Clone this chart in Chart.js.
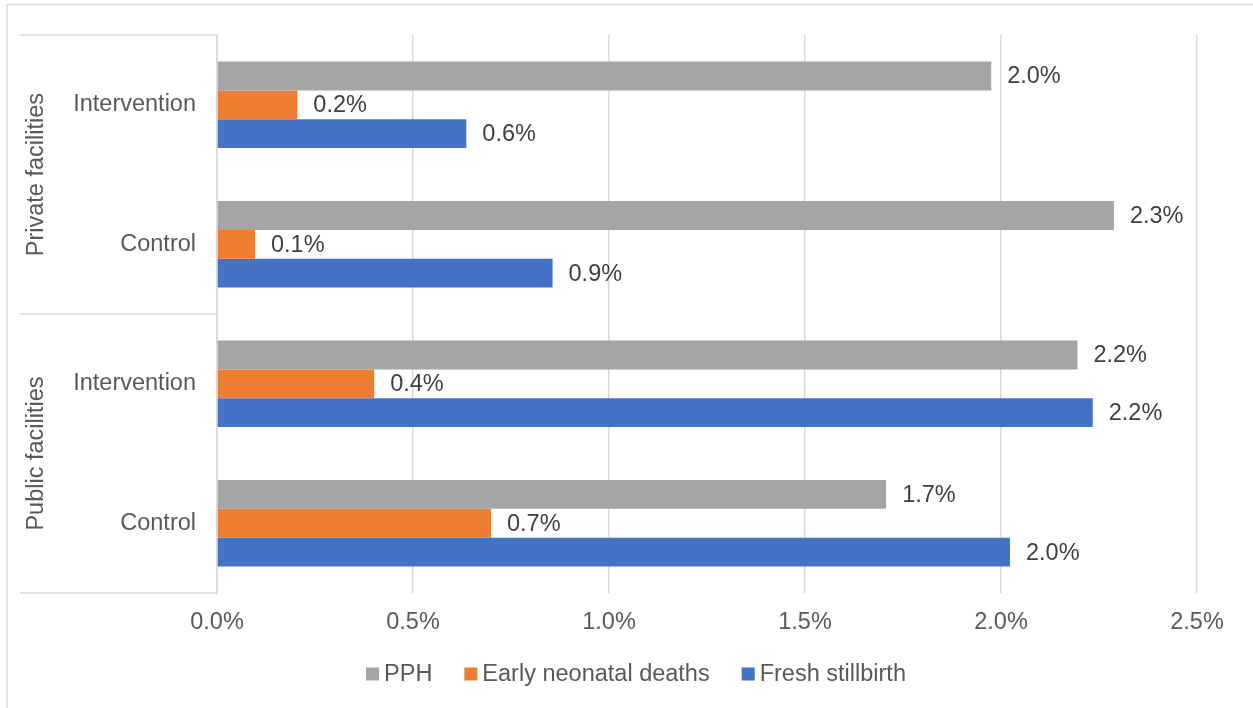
<!DOCTYPE html>
<html>
<head>
<meta charset="utf-8">
<script src="https://cdn.jsdelivr.net/npm/chart.js@4.4.0/dist/chart.umd.min.js"></script>
<style>
  html, body { margin: 0; padding: 0; background: #fff; }
  #wrap { width: 1253px; height: 708px; position: relative; }
</style>
</head>
<body>
<div id="wrap"><canvas id="chart"></canvas></div>
<script>
// Categories (top to bottom) and their facility groups
const categories = ['Intervention', 'Control', 'Intervention', 'Control'];
const groups = ['Private facilities', 'Public facilities'];

// Series values in percent
const pph = [1.975, 2.288, 2.195, 1.707];
const earlyNeonatal = [0.205, 0.097, 0.401, 0.699];
const freshStillbirth = [0.636, 0.856, 2.234, 2.023];

const xTicks = [0, 0.5, 1.0, 1.5, 2.0, 2.5];

const FONT = 'Liberation Sans, Arial, sans-serif';
const FONT_SIZE = 23.5;
const LINE = '#d9d9d9';

// Draws data labels, the facility group labels, separators and the legend
const decorPlugin = {
    id: 'decor',
    afterDatasetsDraw(chart) {
        const ctx = chart.ctx;
        ctx.save();
        ctx.font = FONT_SIZE + 'px ' + FONT;
        ctx.fillStyle = '#404040';
        ctx.textAlign = 'left';
        ctx.textBaseline = 'middle';
        chart.data.datasets.forEach(function(ds, i) {
            chart.getDatasetMeta(i).data.forEach(function(bar, j) {
                ctx.fillText(ds.data[j].toFixed(1) + '%', bar.x + 16, bar.y + 1);
            });
        });
        ctx.restore();
    },
    afterDraw(chart) {
        const ctx = chart.ctx;
        const area = chart.chartArea;
        const yScale = chart.scales.y;
        ctx.save();

        // outer frame (top and left edges visible)
        ctx.strokeStyle = LINE;
        ctx.lineWidth = 1.5;
        ctx.beginPath();
        ctx.moveTo(7, 800);
        ctx.lineTo(7, 4.5);
        ctx.lineTo(1300, 4.5);
        ctx.stroke();

        // group separators
        const step = (area.bottom - area.top) / categories.length;
        ctx.beginPath();
        for (let g = 0; g <= groups.length; g++) {
            const y = area.top + g * step * 2;
            ctx.moveTo(20, y);
            ctx.lineTo(area.left, y);
        }
        ctx.stroke();

        // group labels, rotated
        ctx.font = FONT_SIZE + 'px ' + FONT;
        ctx.fillStyle = '#595959';
        ctx.textAlign = 'center';
        ctx.textBaseline = 'middle';
        groups.forEach(function(name, g) {
            const yMid = (yScale.getPixelForValue(g * 2) + yScale.getPixelForValue(g * 2 + 1)) / 2;
            ctx.save();
            ctx.translate(37, yMid);
            ctx.rotate(-Math.PI / 2);
            ctx.fillText(name, 0, 0);
            ctx.restore();
        });

        // legend
        const items = chart.data.datasets.map(function(ds) {
            return { text: ds.label, color: ds.backgroundColor, w: ctx.measureText(ds.label).width };
        });
        const box = 13, gapText = 5, gapItem = 32;
        let total = 0;
        items.forEach(function(it, k) {
            total += box + gapText + it.w + (k < items.length - 1 ? gapItem : 0);
        });
        let x = 636 - total / 2;
        const yLeg = 674;
        ctx.textAlign = 'left';
        items.forEach(function(it) {
            ctx.fillStyle = it.color;
            ctx.fillRect(x, yLeg - box / 2, box, box);
            ctx.fillStyle = '#595959';
            ctx.fillText(it.text, x + box + gapText, yLeg + 1);
            x += box + gapText + it.w + gapItem;
        });
        ctx.restore();
    }
};

const ctx = document.getElementById('chart').getContext('2d');
new Chart(ctx, {
    type: 'bar',
    data: {
        labels: categories,
        datasets: [{
            label: 'PPH',
            data: pph,
            backgroundColor: '#a5a5a5'
        }, {
            label: 'Early neonatal deaths',
            data: earlyNeonatal,
            backgroundColor: '#ed7d31'
        }, {
            label: 'Fresh stillbirth',
            data: freshStillbirth,
            backgroundColor: '#4472c4'
        }]
    },
    options: {
        indexAxis: 'y',
        responsive: true,
        maintainAspectRatio: false,
        animation: false,
        devicePixelRatio: 1,
        datasets: {
            bar: { categoryPercentage: 0.62, barPercentage: 1.0 }
        },
        layout: {
            padding: { top: 31, right: 56, left: 0, bottom: 0 }
        },
        scales: {
            x: {
                min: 0,
                max: 2.5,
                afterFit: function(scale) { scale.height = 115; },
                afterBuildTicks: function(scale) {
                    scale.ticks = xTicks.map(function(v) { return { value: v }; });
                },
                grid: { color: LINE, lineWidth: 1.5, drawTicks: false },
                border: { display: false },
                ticks: {
                    padding: 15,
                    color: '#595959',
                    font: { family: FONT, size: FONT_SIZE }
                    ,
                    callback: function(value) { return value.toFixed(1) + '%'; }
                }
            },
            y: {
                afterFit: function(scale) { scale.width = 217; },
                grid: { display: false, drawTicks: false },
                border: { display: true, color: LINE, width: 1.5 },
                ticks: {
                    padding: 21,
                    color: '#595959',
                    font: { family: FONT, size: FONT_SIZE }
                }
            }
        },
        plugins: {
            legend: { display: false },
            tooltip: { enabled: false }
        }
    },
    plugins: [decorPlugin]
});
</script>
</body>
</html>
